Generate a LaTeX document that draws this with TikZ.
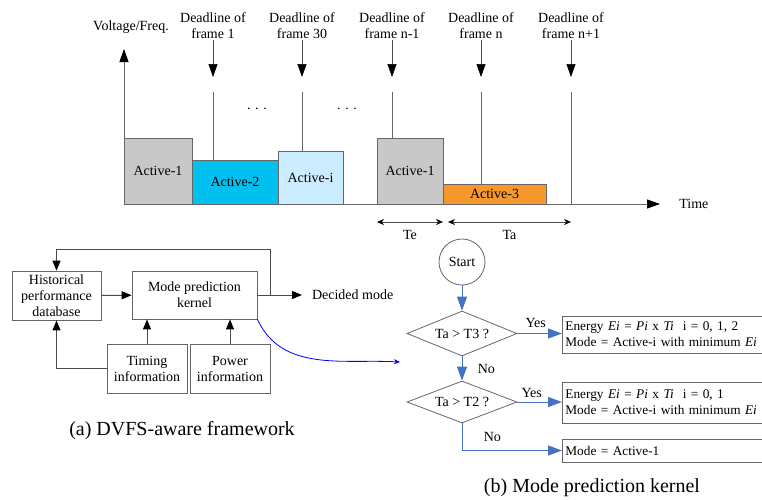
\documentclass[tikz,border=0pt]{standalone}
\usepackage{fontspec}
\setmainfont{Liberation Serif}
\usepackage{xcolor}
\usepackage{tikz}
\usetikzlibrary{arrows.meta}
\usetikzlibrary{shapes,positioning}

\definecolor{actgray}{RGB}{200,200,200}
\definecolor{actcyan}{RGB}{0,192,240}
\definecolor{actlight}{RGB}{204,236,255}
\definecolor{actorange}{RGB}{247,152,44}
\definecolor{flowblue}{RGB}{68,114,196}

\tikzset{
  axisline/.style={draw=black!60, line width=0.8pt, -{Triangle[length=13pt,width=9pt,color=black]}},
  blk/.style={draw=black!60, line width=0.8pt, anchor=south west, inner sep=0pt, outer sep=0pt},
  dlarrow/.style={draw=black!70, line width=0.7pt, -{Triangle[length=13pt,width=9pt,color=black]}},
  dlline/.style={draw=black!60, line width=0.7pt},
  dim/.style={draw=black!70, line width=0.6pt, {Stealth[length=7pt,width=6pt,color=black]}-{Stealth[length=7pt,width=6pt,color=black]}},
  fbox/.style={draw=black!60, line width=0.8pt, align=center, inner sep=0pt},
  arr/.style={draw=black!70, line width=1pt, -{Triangle[length=10pt,width=8pt,color=black]}},
  flow/.style={draw=flowblue, line width=1pt, -{Triangle[length=14pt,width=10pt]}},
  cond/.style={diamond, draw=black!60, line width=0.8pt, aspect=2.4, inner sep=0pt, minimum width=110pt, minimum height=45pt},
  rbox/.style={draw=black!60, line width=0.8pt, anchor=west, align=left, text width=214pt, inner xsep=3pt, inner ysep=0pt, font=\fontsize{13.3}{16}\selectfont},
  captiontext/.style={font=\fontsize{20}{24}\selectfont}
}

\begin{document}
\begin{tikzpicture}[x=1pt, y=-1pt, font=\fontsize{14}{16}\selectfont]
  \clip (0,0) rectangle (762,499);

  % voltage / frequency over time
  \coordinate (origin) at (124,204);
  \coordinate (ytop) at (124,49);
  \node (vf) at (131,27) {Voltage/Freq.};
  \node[anchor=west, outer xsep=16pt] (time) at (660,204) {Time};
  \draw[axisline] (origin) -- (ytop);
  \draw[axisline] (origin) -- (time.west);

  \node[blk, fill=actgray, minimum width=68pt, minimum height=66pt] (act1) at (origin) {Active-1};
  \node[blk, fill=actcyan, minimum width=86pt, minimum height=44pt] (act2) at (act1.south east) {Active-2};
  \node[blk, fill=actlight, minimum width=65pt, minimum height=53pt] (acti) at (act2.south east) {Active-i};
  \node[blk, fill=actgray, minimum width=66pt, minimum height=66pt] (act1b) at (377,204) {Active-1};
  \node[blk, fill=actorange, minimum width=103pt, minimum height=20pt] (act3) at (act1b.south east) {Active-3};

  \node[anchor=base] (dots1) at (257,109) {. . .};
  \node[anchor=base] (dots2) at (347,109) {. . .};

  \foreach \x/\n/\txt/\y in {213/1/frame 1/160, 302/2/frame 30/151, 392/3/frame n-1/138, 481/4/frame n/184, 571/5/frame n+1/204} {
    \node[align=center, inner sep=1pt] (dl\n) at (\x,26) {Deadline of\\\txt};
    \draw[dlarrow] (dl\n.south) -- (\x,77);
    \draw[dlline] (\x,92) -- (\x,\y);
  }

  \coordinate (teL) at (377,222);
  \coordinate (teR) at (443,222);
  \coordinate (taL) at (448,222);
  \coordinate (taR) at (571,222);
  \draw[dim] (teL) -- (teR) node[midway, below=5pt] (te) {Te};
  \draw[dim] (taL) -- (taR) node[midway, below=5pt] (ta) {Ta};

  % (a) framework
  \node[fbox, minimum width=89pt, minimum height=49pt] (hist) at (56.5,295.5) {Historical\\performance\\database};
  \node[fbox, minimum width=125pt, minimum height=48pt] (kern) at (194.5,295) {Mode prediction\\kernel};
  \node[fbox, minimum width=80pt, minimum height=49pt] (timing) at (147,368.5) {Timing\\information};
  \node[fbox, minimum width=80pt, minimum height=49pt] (power) at (230,368.5) {Power\\information};
  \node[anchor=west, outer xsep=10pt, inner xsep=0pt] (decided) at (302,295) {Decided mode};
  \coordinate (fb) at (270,295);

  \draw[arr] (hist) -- (kern);
  \draw[arr] (kern) -- (decided.west);
  \draw[arr] (fb) |- (hist.north |- 0,249) -- (hist.north);
  \draw[arr] (timing.west) -| (hist.south);
  \draw[arr] (timing) -- (timing |- kern.south);
  \draw[arr] (power) -- (power |- kern.south);
  \coordinate (link) at (400,362);
  \draw[blue, line width=0.8pt, -{Stealth[length=6pt,width=5pt]}] (kern.south east) to[out=-65, in=177] (link);

  \node[captiontext] (capa) at (182,431) {(a) DVFS-aware framework};

  % (b) prediction kernel
  \node[circle, draw=black!60, line width=0.8pt, minimum size=46pt, inner sep=0pt] (start) at (462,262) {Start};
  \node[cond] (q1) at (462,333.5) {Ta > T3 ?};
  \node[cond, minimum height=42pt] (q2) at (462,402) {Ta > T2 ?};
  \node[rbox, minimum height=37pt] (e1) at (562,334.5) {Energy \textit{Ei} = \textit{Pi} x \textit{Ti}~~i = 0, 1, 2\\Mode = Active-i with minimum \textit{Ei}};
  \node[rbox, minimum height=41pt] (e2) at (562,402.5) {Energy \textit{Ei} = \textit{Pi} x \textit{Ti}~~i = 0, 1\\Mode = Active-i with minimum \textit{Ei}};
  \node[rbox, minimum height=23pt] (e3) at (562,450.5) {Mode = Active-1};

  \draw[flow] (start) -- (q1);
  \draw[flow] (q1.east) -- (q1.east -| e1.west) node[midway, above=2pt, xshift=-4pt] {Yes};
  \draw[flow] (q1) -- (q2) node[midway, right=12pt] {No};
  \draw[flow] (q2.east) -- (q2.east -| e2.west) node[midway, above=1pt, xshift=-8pt] {Yes};
  \draw[flow] (q2.south) |- (e3.west) node[pos=0.25, right=18pt] {No};

  \node[captiontext] (capb) at (592,488) {(b) Mode prediction kernel};
\end{tikzpicture}
\end{document}
